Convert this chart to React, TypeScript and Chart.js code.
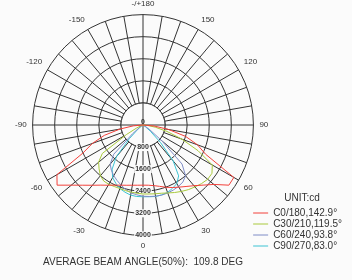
import { useEffect, useRef } from "react";
import { Chart, registerables } from "chart.js";

Chart.register(...registerables);

// ---- data ----
// gamma angles (deg) for every half-plane array below
const GAMMA = [0, 5, 10, 15, 20, 25, 30, 35, 40, 45, 50, 55, 60, 65, 70, 75, 80, 85, 90];
const GAMMA_STEP = 5;

// intensities in cd, right half (positive gamma) and left half (negative gamma)
const C0 = [2180, 2190, 2230, 2300, 2400, 2500, 2600, 2720, 2870, 3080, 3350, 3800, 3800, 2500, 2100, 1600, 950, 400, 0];
const C180 = [2180, 2190, 2215, 2260, 2320, 2405, 2520, 2660, 2850, 3085, 3390, 3800, 3600, 2400, 1950, 1450, 850, 350, 0];
const C30 = [2500, 2510, 2530, 2560, 2620, 2700, 2780, 2860, 2930, 3000, 3060, 3050, 2900, 2200, 1500, 900, 450, 150, 0];
const C210 = [2480, 2480, 2470, 2460, 2450, 2460, 2480, 2480, 2400, 2250, 2100, 1800, 700, 250, 80, 0, 0, 0, 0];
const C60 = [2580, 2600, 2620, 2630, 2620, 2600, 2570, 2520, 2400, 2000, 900, 300, 100, 0, 0, 0, 0, 0, 0];
const C240 = [2550, 2540, 2500, 2420, 2320, 2220, 2120, 2000, 1850, 1500, 500, 150, 50, 0, 0, 0, 0, 0, 0];
const C90 = [2600, 2610, 2630, 2620, 2600, 2530, 2450, 2250, 1700, 900, 350, 100, 0, 0, 0, 0, 0, 0, 0];
const C270 = [2600, 2600, 2580, 2520, 2450, 2330, 2200, 1950, 1500, 700, 250, 80, 0, 0, 0, 0, 0, 0, 0];

const SERIES_NAMES = ["C0/180,142.9°", "C30/210,119.5°", "C60/240,93.8°", "C90/270,83.0°"];
const SERIES_COLORS = ["#f2403a", "#a9c93c", "#7f8cc6", "#3cc3d3"];

const RADIAL_MAX = 4000;
const RADIAL_STEP = 800;
const ANGLE_LABEL_STEP = 30;
const TOP_LABEL = "-/+180";
const UNIT_LABEL = "UNIT:cd";
const FOOTER = "AVERAGE BEAM ANGLE(50%):  109.8 DEG";

// ---- styles ----
const BG = "#fbfbfb";
const GRID = "#333333";
const TEXT = "#333333";
const FONT = '"Liberation Sans", Arial, sans-serif';

// radar labels: index 0 at top (gamma 180), clockwise
const N = 360 / GAMMA_STEP;
const gammaAt = (i: number) => {
  const a = i * GAMMA_STEP;
  return a <= 180 ? 180 - a : -(a - 180);
};
const LABELS = Array.from({ length: N }, (_, i) => String(gammaAt(i)));

function toRadar(pos: number[], neg: number[]) {
  const out: number[] = [];
  for (let i = 0; i < N; i++) {
    const a = i * GAMMA_STEP;
    if (a >= 90 && a <= 180) out.push(pos[GAMMA.indexOf(180 - a)]);
    else if (a > 180 && a <= 270) out.push(neg[GAMMA.indexOf(a - 180)]);
    else out.push(0);
  }
  return out;
}

const SERIES = [
  toRadar(C0, C180),
  toRadar(C30, C210),
  toRadar(C60, C240),
  toRadar(C90, C270),
];

const polarGrid = {
  id: "polarGrid",
  beforeDatasetsDraw(chart: any) {
    const r = chart.scales.r;
    const ctx = chart.ctx;
    const inner = r.getDistanceFromCenterForValue(RADIAL_STEP);
    ctx.save();
    ctx.beginPath();
    ctx.arc(r.xCenter, r.yCenter, inner, 0, Math.PI * 2);
    ctx.fillStyle = BG;
    ctx.fill();
    ctx.strokeStyle = GRID;
    ctx.lineWidth = 1;
    ctx.stroke();
    for (const idx of [0, N / 4, N / 2, (3 * N) / 4]) {
      const p = r.getPointPosition(idx, inner);
      ctx.beginPath();
      ctx.moveTo(r.xCenter, r.yCenter);
      ctx.lineTo(p.x, p.y);
      ctx.stroke();
    }
    ctx.font = `bold 7px ${FONT}`;
    ctx.textAlign = "center";
    ctx.textBaseline = "middle";
    r.ticks.forEach((t: any) => {
      const d = r.getDistanceFromCenterForValue(t.value);
      const p = r.getPointPosition(N / 2, d);
      const text = String(t.value);
      const w = ctx.measureText(text).width;
      if (t.value > 0) {
        ctx.fillStyle = BG;
        ctx.fillRect(p.x - w / 2 - 1, p.y - 4, w + 2, 8);
      }
      ctx.fillStyle = TEXT;
      ctx.fillText(text, p.x, t.value > 0 ? p.y : p.y - 3);
    });
    ctx.restore();
  },
};

const legendDock = {
  id: "legendDock",
  afterLayout(chart: any) {
    const lg = chart.legend;
    if (!lg) return;
    lg.left = chart.width - lg.width;
    lg.right = chart.width;
  },
};

export default function App() {
  const ref = useRef<HTMLCanvasElement | null>(null);
  useEffect(() => {
    if (!ref.current) return;
    Chart.defaults.font.family = FONT;
    const chart = new Chart(ref.current, {
      type: "radar",
      data: {
        labels: LABELS,
        datasets: SERIES.map((d, k) => ({
          label: SERIES_NAMES[k],
          data: d,
          borderColor: SERIES_COLORS[k],
          backgroundColor: SERIES_COLORS[k],
          borderWidth: 1,
          pointRadius: 0,
          fill: false,
          tension: 0,
        })),
      },
      options: {
        responsive: false,
        animation: false,
        events: [],
        layout: { padding: { left: 0, right: 66, top: 0, bottom: 8 } },
        scales: {
          r: {
            min: 0,
            max: RADIAL_MAX,
            startAngle: 0,
            ticks: { display: false, stepSize: RADIAL_STEP },
            grid: { circular: true, color: GRID, lineWidth: 1 },
            angleLines: {
              color: GRID,
              lineWidth: (c: any) => (c.index % 2 === 0 ? 1 : 0),
            },
            pointLabels: {
              display: true,
              padding: 6,
              color: TEXT,
              font: { size: 8, family: FONT },
              callback: (label: string) => {
                const g = Number(label);
                if (g % ANGLE_LABEL_STEP !== 0) return "";
                return g === 180 ? TOP_LABEL : String(g);
              },
            },
          },
        },
        plugins: {
          tooltip: { enabled: false },
          legend: {
            display: true,
            position: "chartArea",
            fullSize: false,
            align: "end",
            title: {
              display: true,
              text: UNIT_LABEL,
              color: TEXT,
              font: { size: 10, family: FONT },
              padding: { top: 0, bottom: 2 },
            },
            labels: {
              usePointStyle: true,
              pointStyle: "line",
              pointStyleWidth: 15,
              boxHeight: 10,
              padding: 1,
              color: TEXT,
              font: { size: 10, family: FONT },
            },
          },
          title: {
            display: true,
            text: FOOTER,
            position: "bottom",
            fullSize: false,
            color: TEXT,
            font: { size: 10, weight: "normal", family: FONT },
            padding: { top: 4, bottom: 4 },
          },
        },
      },
      plugins: [polarGrid, legendDock],
    } as any);
    return () => chart.destroy();
  }, []);
  return (
    <div style={{ position: "absolute", left: 0, top: 0, width: 352, height: 280, background: BG }}>
      <canvas ref={ref} width={352} height={280} />
    </div>
  );
}
